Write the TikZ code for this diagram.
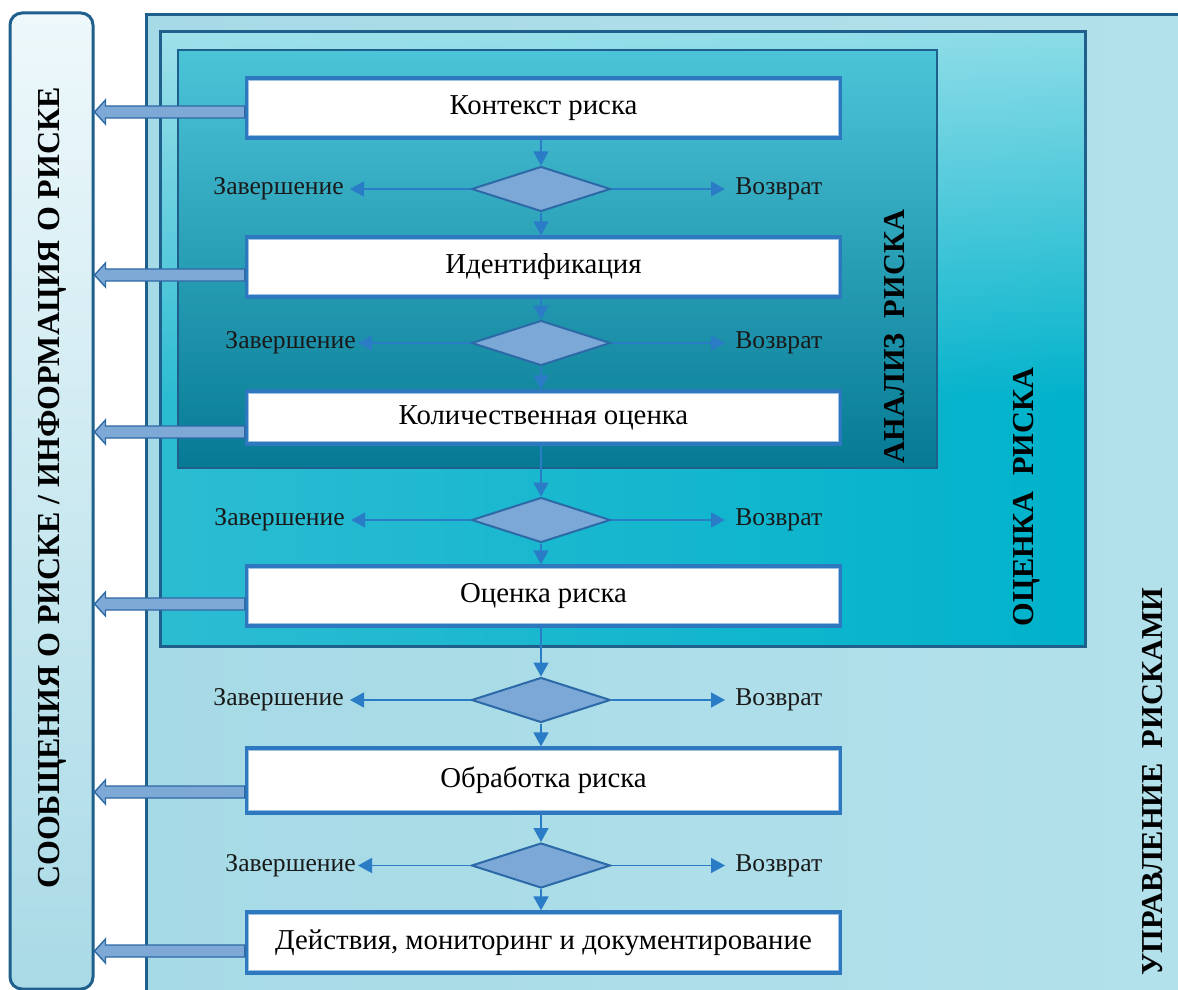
\documentclass[tikz,border=0pt]{standalone}
\usepackage{fontspec}
\setmainfont{Liberation Serif}
\usetikzlibrary{shapes.geometric,arrows.meta,calc,fadings}

\definecolor{frame}{HTML}{1F5F8C}
\definecolor{boxblue}{HTML}{2E78C0}
\definecolor{boxinner}{HTML}{9CC0E4}
\definecolor{diafill}{HTML}{7BA8D7}
\definecolor{diadraw}{HTML}{2C69A6}
\definecolor{arr}{HTML}{2A7CC7}
\definecolor{carrfill}{HTML}{7EA8D6}
\definecolor{carrdraw}{HTML}{2E6AA5}
\definecolor{outL}{HTML}{A6DAE6}
\definecolor{outM}{HTML}{D2EEF4}
\definecolor{outR}{HTML}{B3E1EB}
\definecolor{midL}{HTML}{2CBCD2}
\definecolor{midM}{HTML}{A2DEE9}
\definecolor{midR}{HTML}{00B2CB}
\definecolor{inT}{HTML}{4CC4D8}
\definecolor{inM}{HTML}{00ACCA}
\definecolor{inB}{HTML}{067A94}
\definecolor{barT}{HTML}{EEF8FB}
\definecolor{barB}{HTML}{A9DAE6}

\newcommand{\innerline}[1]{%
  \draw[boxinner, line width=0.45pt] ([shift={(1.9pt,-1.9pt)}]#1.north west) rectangle ([shift={(-1.9pt,1.9pt)}]#1.south east);}
\newcommand{\commarrow}[2]{%
  \coordinate (s#1) at (#1.west |- 0,#2);
  \coordinate (e#1) at (comm.east |- 0,#2);
  \draw[carr] ($(s#1)+(0,-6)$) -- ($(e#1)+(11,-6)$) -- ($(e#1)+(11,-12)$) -- (e#1)
     -- ($(e#1)+(11,12)$) -- ($(e#1)+(11,6)$) -- ($(s#1)+(0,6)$) -- cycle;}

\begin{document}
\begin{tikzpicture}[x=0.5pt,y=-0.5pt,
  stepbox/.style={draw=boxblue, line width=1.6pt, fill=white, minimum width=297pt,
     inner sep=0pt, text=black, font=\rmfamily\fontsize{14.4}{17}\selectfont},
  dia/.style={diamond, draw=diadraw, fill=diafill, line width=1pt,
     minimum width=69.5pt, minimum height=22.5pt, inner sep=0pt},
  lab/.style={inner sep=0pt, text=black!90, font=\rmfamily\fontsize{12.8}{15}\selectfont},
  biglab/.style={inner sep=0pt, rotate=90, text=black, font=\rmfamily\bfseries\fontsize{15.2}{18}\selectfont},
  flow/.style={arr, line width=0.8pt, -{Triangle[length=7pt,width=7.5pt]}},
  carr/.style={fill=carrfill, draw=carrdraw, line width=0.7pt, line join=miter},
  frm/.style={draw=frame, line width=1.5pt}]

\path[use as bounding box] (0,0) rectangle (1178,990);
\clip (0,0) rectangle (1178,990);
\fill[white] (0,0) rectangle (1178,990);

% outer frame: risk management
\shade[left color=outL, middle color=outM, right color=outR] (146,15) rectangle (1210,1010);
\draw[frm] (146,15) rectangle (1210,1010);

% middle frame: risk assessment
\shade[left color=midL, middle color=midM, right color=midR] (160,32) rectangle (1085,646);
\fill[white, fill opacity=0.55, path fading=south] (160,32) rectangle (1085,400);
\draw[frm] (160,32) rectangle (1085,646);

% inner frame: risk analysis
\shade[top color=inT, middle color=inM, bottom color=inB] (178,50) rectangle (937,468);
\draw[frm, line width=1.2pt] (178,50) rectangle (937,468);

% communication bar
\node[draw=frame, line width=1.5pt, rounded corners=6pt, top color=barT, bottom color=barB,
      minimum width=41.5pt, minimum height=488pt, inner sep=0pt] (comm) at (51.5,501) {};

% steps
\node[stepbox, minimum height=30pt]   (b1) at (543.5,108)   {Контекст риска};
\node[stepbox, minimum height=30pt]   (b2) at (543.5,267)   {Идентификация};
\node[stepbox, minimum height=26.5pt] (b3) at (543.5,417.5) {Количественная оценка};
\node[stepbox, minimum height=30pt]   (b4) at (543.5,596)   {Оценка риска};
\node[stepbox, minimum height=32.5pt] (b5) at (543.5,780.5) {Обработка риска};
\node[stepbox, minimum height=30.5pt] (b6) at (543.5,942.5) {Действия, мониторинг и документирование};
\foreach \b in {b1,b2,b3,b4,b5,b6} {\innerline{\b}}

% decisions
\node[dia] (d1) at (541,189) {};
\node[dia] (d2) at (541,343) {};
\node[dia] (d3) at (541,520) {};
\node[dia] (d4) at (541,700) {};
\node[dia] (d5) at (541,865.5) {};

% labels
\node[lab, anchor=east] (z1) at (344,189) {Завершение};
\node[lab, anchor=east] (z2) at (356,343) {Завершение};
\node[lab, anchor=east] (z3) at (345,520) {Завершение};
\node[lab, anchor=east] (z4) at (344,700) {Завершение};
\node[lab, anchor=east] (z5) at (356,865.5) {Завершение};
\node[lab, anchor=west] (r1) at (735,189) {Возврат};
\node[lab, anchor=west] (r2) at (735,343) {Возврат};
\node[lab, anchor=west] (r3) at (735,520) {Возврат};
\node[lab, anchor=west] (r4) at (735,700) {Возврат};
\node[lab, anchor=west] (r5) at (735,865.5) {Возврат};

% flow arrows
\draw[flow] (b1.south -| d1.north) -- (d1.north);
\draw[flow] (d1.south) -- (b2.north -| d1.south);
\draw[flow] (b2.south -| d2.north) -- (d2.north);
\draw[flow] (d2.south) -- (b3.north -| d2.south);
\draw[flow] (b3.south -| d3.north) -- (d3.north);
\draw[flow] (d3.south) -- (b4.north -| d3.south);
\draw[flow] (b4.south -| d4.north) -- (d4.north);
\draw[flow] (d4.south) -- (b5.north -| d4.south);
\draw[flow] (b5.south -| d5.north) -- (d5.north);
\draw[flow] (d5.south) -- (b6.north -| d5.south);

\draw[flow] (d1.west) -- ([xshift=3pt]z1.east);
\draw[flow] (d2.west) -- ([xshift=1pt]z2.east);
\draw[flow] (d3.west) -- ([xshift=3pt]z3.east);
\draw[flow] (d4.west) -- ([xshift=3pt]z4.east);
\draw[flow] (d5.west) -- ([xshift=1pt]z5.east);
\draw[flow] (d1.east) -- ([xshift=-5pt]r1.west);
\draw[flow] (d2.east) -- ([xshift=-5pt]r2.west);
\draw[flow] (d3.east) -- ([xshift=-5pt]r3.west);
\draw[flow] (d4.east) -- ([xshift=-5pt]r4.west);
\draw[flow] (d5.east) -- ([xshift=-5pt]r5.west);

% communication arrows
\commarrow{b1}{112}
\commarrow{b2}{275}
\commarrow{b3}{432}
\commarrow{b4}{604}
\commarrow{b5}{792}
\commarrow{b6}{951}

% vertical titles
\node[biglab, font=\rmfamily\bfseries\fontsize{16}{18}\selectfont] (tcomm) at (52,488) {СООБЩЕНИЯ О РИСКЕ / ИНФОРМАЦИЯ О РИСКЕ};
\node[biglab] (tan) at (895,336.5) {АНАЛИЗ\ \ РИСКА};
\node[biglab] (tas) at (1027,497) {ОЦЕНКА\ \ РИСКА};
\node[biglab] (tman) at (1152.5,781.5) {УПРАВЛЕНИЕ\ \ РИСКАМИ};
\end{tikzpicture}
\end{document}
